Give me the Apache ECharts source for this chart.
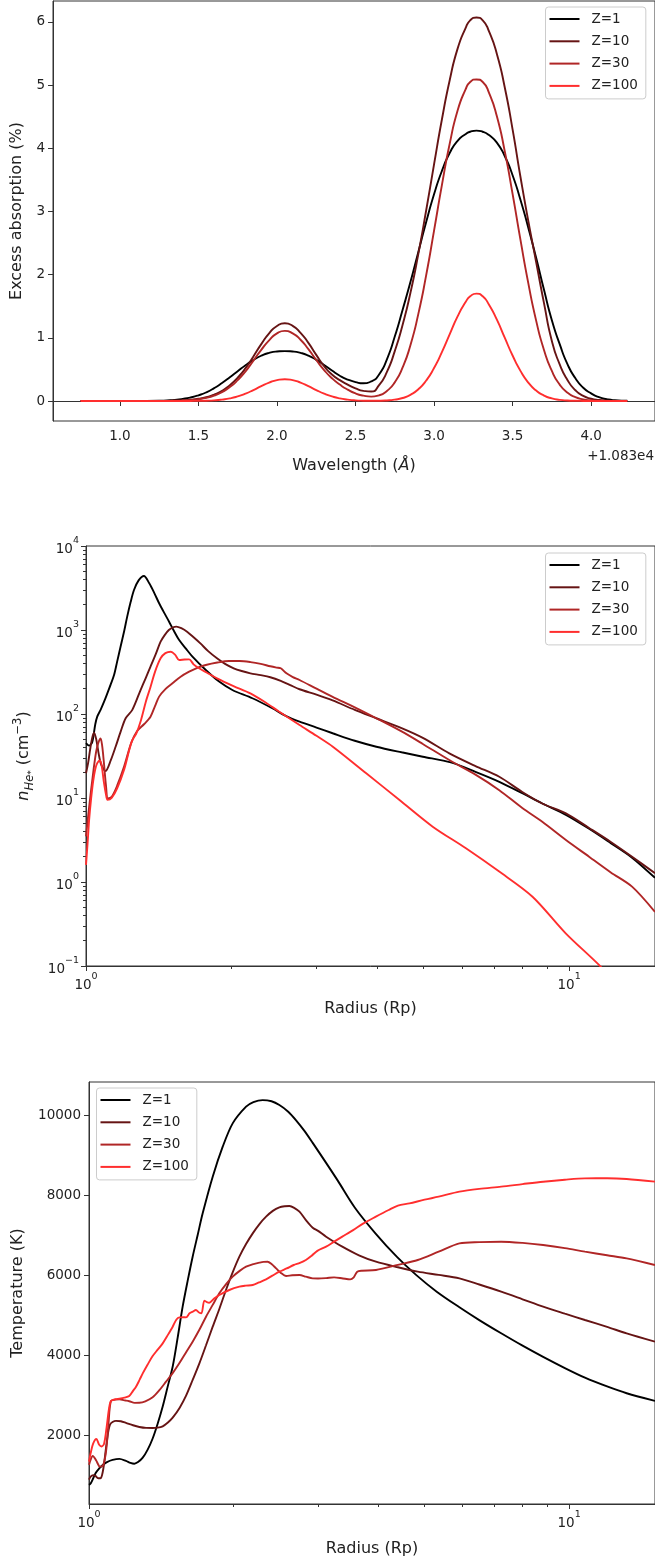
<!DOCTYPE html>
<html>
<head>
<meta charset="utf-8">
<script src="https://cdn.jsdelivr.net/npm/echarts@6/dist/echarts.min.js"></script>
<style>
html,body{margin:0;padding:0;background:#ffffff;}
#chart{width:655px;height:1559px;}
</style>
</head>
<body>
<div id="chart"></div>
<script>
// ---------------- data ----------------
const seriesNames = ['Z=1', 'Z=10', 'Z=30', 'Z=100'];

// Panel 1: excess absorption (%) vs wavelength offset (Å, + 1.083e4)
const wavelength = [0.75,1.00,1.25,1.30,1.35,1.40,1.45,1.50,1.55,1.60,1.65,1.70,1.75,1.80,1.85,1.90,1.95,2.00,2.05,2.10,2.15,2.20,2.25,2.30,2.35,2.40,2.45,2.50,2.55,2.60,2.65,2.70,2.75,2.80,2.85,2.90,2.95,3.00,3.05,3.10,3.15,3.20,3.23,3.27,3.31,3.35,3.40,3.45,3.50,3.55,3.60,3.65,3.70,3.75,3.80,3.85,3.90,3.95,4.00,4.05,4.10,4.15,4.23];
const absZ1 = [0,0,0.004,0.01,0.018,0.033,0.056,0.09,0.137,0.203,0.284,0.376,0.472,0.567,0.65,0.717,0.762,0.784,0.79,0.784,0.762,0.718,0.652,0.571,0.482,0.40,0.34,0.30,0.28,0.31,0.42,0.66,1.02,1.445,1.886,2.36,2.833,3.272,3.642,3.928,4.119,4.224,4.262,4.28,4.262,4.209,4.09,3.877,3.574,3.186,2.743,2.266,1.76,1.28,0.90,0.58,0.36,0.21,0.12,0.06,0.028,0.012,0.004];
const absZ10 = [0,0,0.001,0.002,0.005,0.01,0.02,0.035,0.06,0.10,0.16,0.25,0.37,0.52,0.706,0.90,1.071,1.188,1.23,1.19,1.08,0.92,0.73,0.55,0.42,0.33,0.26,0.20,0.16,0.15,0.25,0.46,0.79,1.207,1.716,2.329,3.019,3.745,4.456,5.082,5.578,5.899,6.026,6.07,6.026,5.85,5.493,4.967,4.30,3.55,2.85,2.2,1.55,0.95,0.58,0.33,0.17,0.08,0.035,0.015,0.006,0.002,0];
const absZ30 = [0,0,0,0.001,0.003,0.008,0.016,0.03,0.05,0.085,0.14,0.22,0.33,0.47,0.64,0.81,0.96,1.07,1.11,1.07,0.97,0.82,0.65,0.49,0.36,0.26,0.18,0.12,0.085,0.07,0.09,0.16,0.295,0.531,0.888,1.379,1.993,2.697,3.417,4.076,4.598,4.928,5.05,5.09,5.05,4.877,4.507,3.955,3.278,2.554,1.866,1.272,0.807,0.476,0.26,0.131,0.061,0.026,0.011,0.004,0.002,0.001,0];
const absZ100 = [0,0,0,0,0,0,0.001,0.002,0.0045,0.01,0.022,0.041,0.073,0.117,0.173,0.234,0.29,0.331,0.345,0.331,0.29,0.234,0.173,0.117,0.073,0.041,0.022,0.01,0.005,0.003,0.004,0.009,0.022,0.048,0.098,0.186,0.324,0.522,0.774,1.06,1.34,1.562,1.657,1.70,1.657,1.524,1.287,1.002,0.72,0.477,0.292,0.165,0.086,0.041,0.018,0.0075,0.003,0.001,0,0,0,0,0];
const wavelengthTicks = [1.0,1.5,2.0,2.5,3.0,3.5,4.0];
const absorptionTicks = [0,1,2,3,4,5,6];
const wavelengthOffsetText = '+1.083e4';

// Panel 2: He* density [radius (Rp), n (cm^-3)]
const nHeZ1 = [[1.0,45],[1.015,42],[1.03,46],[1.045,75],[1.055,93],[1.072,112],[1.09,140],[1.107,176],[1.125,225],[1.143,291],[1.16,420],[1.179,632],[1.2,980],[1.217,1442],[1.237,2150],[1.257,2993],[1.285,3900],[1.318,4393],[1.352,3597],[1.385,2750],[1.417,2080],[1.45,1620],[1.486,1256],[1.52,980],[1.559,760],[1.61,600],[1.661,482],[1.77,334],[1.886,243],[2.009,193],[2.21,154],[2.43,117],[2.59,95],[2.767,81],[3.0,69],[3.24,59],[3.6,48],[3.99,40.8],[4.5,35],[4.98,31],[5.69,26.5],[6.4,20.5],[7.17,15.6],[8.0,11.4],[8.8,8.6],[9.85,6.3],[11.0,4.3],[12.2,2.9],[13.5,1.95],[15.06,1.12]];
const nHeZ10 = [[1.0,19.7],[1.01,26],[1.02,38],[1.03,52],[1.039,60],[1.05,50],[1.062,34],[1.075,25],[1.098,21],[1.125,28],[1.152,41],[1.18,62],[1.208,89],[1.247,112],[1.297,193],[1.33,270],[1.36,366],[1.395,520],[1.427,726],[1.455,870],[1.484,1000],[1.51,1070],[1.539,1097],[1.575,1050],[1.619,955],[1.67,820],[1.725,693],[1.79,560],[1.867,460],[1.94,395],[2.022,350],[2.1,325],[2.189,305],[2.3,290],[2.407,274],[2.53,248],[2.647,221],[2.767,197],[3.0,170],[3.24,145],[3.6,112],[3.99,89],[4.5,68],[4.98,52],[5.65,34],[6.4,24],[7.17,17.9],[8.0,11.8],[8.8,8.6],[9.85,6.56],[11.0,4.4],[12.2,3.0],[13.5,2.0],[15.06,1.27]];
const nHeZ30 = [[1.0,3.5],[1.01,6],[1.02,10],[1.03,16],[1.04,25],[1.05,36],[1.06,45],[1.072,51],[1.08,42],[1.088,28],[1.1,14],[1.11,9.9],[1.13,10.3],[1.16,14],[1.2,24],[1.24,45],[1.274,62],[1.32,76],[1.36,93],[1.39,125],[1.417,161],[1.46,198],[1.51,232],[1.57,278],[1.635,319],[1.7,355],[1.77,383],[1.87,410],[1.977,427],[2.08,427],[2.19,415],[2.3,395],[2.407,370],[2.48,357],[2.53,350],[2.6,305],[2.68,275],[2.767,254],[3.0,200],[3.24,160],[3.6,120],[3.99,89],[4.5,62],[4.98,44],[5.65,28.3],[6.4,19],[7.17,12.4],[8.0,7.6],[8.8,5.2],[9.85,3.16],[11.0,2.0],[12.2,1.3],[13.5,0.88],[15.06,0.44]];
const nHeZ100 = [[1.0,1.6],[1.008,3],[1.015,5.5],[1.025,10],[1.035,16],[1.045,22],[1.055,26],[1.069,28],[1.078,24],[1.088,16],[1.1,11],[1.108,9.5],[1.13,10],[1.16,13],[1.2,22],[1.23,38],[1.247,49],[1.27,58],[1.3,85],[1.33,140],[1.36,210],[1.39,320],[1.427,460],[1.46,530],[1.498,552],[1.53,505],[1.559,439],[1.6,445],[1.635,447],[1.67,390],[1.714,350],[1.78,310],[1.867,266],[2.02,215],[2.189,176],[2.35,138],[2.508,107],[2.767,74],[3.0,55],[3.243,40.8],[3.802,19.7],[4.456,9.47],[5.22,4.56],[6.116,2.52],[7.168,1.33],[8.4,0.668],[9.84,0.245],[11.53,0.103],[12.3,0.068]];
const radiusMajorTicks = [1, 10];
const radiusMinorTicks = [2,3,4,5,6,7,8,9];
const densityMajorTicks = [0.1, 1, 10, 100, 1000, 10000];
const densityMinorTicks = [0.2,0.3,0.4,0.5,0.6,0.7,0.8,0.9,2,3,4,5,6,7,8,9,20,30,40,50,60,70,80,90,200,300,400,500,600,700,800,900,2000,3000,4000,5000,6000,7000,8000,9000];

// Panel 3: temperature (K) [radius (Rp), T]
const tempZ1 = [[1.0,770],[1.008,807],[1.02,930],[1.034,1080],[1.05,1180],[1.068,1269],[1.09,1340],[1.12,1395],[1.157,1420],[1.194,1370],[1.22,1320],[1.243,1300],[1.265,1340],[1.294,1450],[1.325,1650],[1.357,1930],[1.39,2300],[1.424,2730],[1.458,3220],[1.494,3730],[1.53,4450],[1.567,5225],[1.605,5870],[1.644,6475],[1.685,7030],[1.725,7558],[1.81,8475],[1.899,9225],[1.992,9808],[2.124,10225],[2.2,10340],[2.30,10390],[2.4,10360],[2.492,10267],[2.6,10100],[2.70,9885],[2.81,9620],[2.924,9320],[3.118,8820],[3.3,8370],[3.58,7700],[3.95,7060],[4.38,6470],[4.8,6020],[5.3,5600],[5.91,5210],[6.5,4890],[7.22,4560],[8.0,4250],[8.83,3970],[9.8,3690],[10.79,3450],[12.0,3230],[13.18,3060],[15.1,2870]];
const tempZ10 = [[1.0,900],[1.008,975],[1.02,1010],[1.03,1000],[1.045,935],[1.058,940],[1.072,1200],[1.088,1800],[1.106,2277],[1.138,2370],[1.165,2360],[1.194,2320],[1.235,2260],[1.273,2218],[1.315,2195],[1.357,2193],[1.39,2200],[1.424,2235],[1.46,2330],[1.494,2450],[1.545,2700],[1.593,3000],[1.645,3400],[1.698,3808],[1.753,4260],[1.81,4725],[1.87,5180],[1.929,5642],[1.99,6070],[2.057,6475],[2.124,6790],[2.193,7058],[2.265,7290],[2.338,7475],[2.415,7620],[2.492,7708],[2.555,7735],[2.615,7742],[2.68,7690],[2.744,7600],[2.83,7390],[2.924,7200],[3.0,7120],[3.118,6975],[3.37,6725],[3.65,6510],[3.96,6350],[4.4,6210],[4.84,6100],[5.35,6020],[5.91,5933],[6.5,5780],[7.22,5600],[8.0,5410],[8.83,5225],[9.8,5050],[10.79,4892],[12.0,4720],[13.18,4558],[15.1,4350]];
const tempZ30 = [[1.0,1270],[1.008,1400],[1.018,1496],[1.035,1380],[1.054,1227],[1.07,1260],[1.085,1600],[1.098,2300],[1.111,2865],[1.135,2900],[1.157,2907],[1.19,2880],[1.213,2860],[1.245,2820],[1.273,2823],[1.31,2860],[1.357,2960],[1.4,3130],[1.447,3350],[1.495,3570],[1.542,3808],[1.59,4070],[1.644,4350],[1.7,4660],[1.753,4975],[1.81,5270],[1.868,5558],[1.93,5790],[1.992,5975],[2.06,6120],[2.124,6225],[2.2,6290],[2.264,6325],[2.31,6345],[2.356,6350],[2.4,6290],[2.453,6183],[2.51,6070],[2.573,5992],[2.65,6010],[2.744,6017],[2.83,5975],[2.924,5933],[3.0,5930],[3.118,5940],[3.24,5958],[3.38,5930],[3.5,5908],[3.56,5960],[3.62,6100],[3.7,6125],[3.96,6142],[4.4,6270],[4.84,6392],[5.35,6600],[5.91,6808],[6.5,6840],[7.22,6850],[8.0,6820],[8.83,6767],[9.8,6690],[10.79,6600],[12.0,6510],[13.18,6433],[15.1,6267]];
const tempZ100 = [[1.0,1350],[1.008,1563],[1.02,1800],[1.036,1916],[1.05,1773],[1.062,1731],[1.075,1800],[1.088,2200],[1.1,2650],[1.111,2865],[1.135,2910],[1.157,2924],[1.185,2950],[1.213,2991],[1.235,3120],[1.253,3225],[1.275,3400],[1.294,3558],[1.325,3780],[1.357,3990],[1.39,4150],[1.424,4308],[1.46,4520],[1.494,4725],[1.52,4900],[1.542,4958],[1.57,4960],[1.593,4958],[1.62,5060],[1.645,5100],[1.67,5142],[1.695,5080],[1.715,5060],[1.739,5375],[1.76,5340],[1.78,5325],[1.82,5420],[1.868,5517],[1.96,5642],[2.057,5725],[2.12,5750],[2.193,5767],[2.26,5830],[2.338,5908],[2.41,6000],[2.492,6100],[2.58,6180],[2.67,6267],[2.75,6320],[2.83,6392],[2.91,6500],[2.99,6620],[3.118,6725],[3.24,6850],[3.37,6975],[3.55,7140],[3.73,7308],[3.95,7470],[4.21,7642],[4.4,7750],[4.65,7808],[5.0,7900],[5.35,7975],[5.91,8100],[6.5,8170],[7.22,8225],[8.0,8290],[8.83,8350],[9.8,8400],[10.79,8433],[12.0,8435],[13.18,8417],[15.1,8350]];
const temperatureTicks = [2000, 4000, 6000, 8000, 10000];

// ---------------- styling ----------------
const FONT = 'DejaVu Sans';
const COLORS = ['#000000', '#661414', '#b02626', '#ff2e2e'];
const AXIS_COLOR = '#333333';
const TEXT_COLOR = '#222222';
const LINE_W = 1.9;

const supRich = {
  b: {fontFamily: FONT, fontSize: 13.5, color: TEXT_COLOR, lineHeight: 20, verticalAlign: 'bottom'},
  s: {fontFamily: FONT, fontSize: 9.5, color: TEXT_COLOR, lineHeight: 10, verticalAlign: 'top'}
};
function logLabel(v) {
  const e = Math.round(Math.log10(v));
  const es = e < 0 ? '\u2212' + Math.abs(e) : String(e);
  return '{b|10}{s|' + es + '}';
}

function linearAxisCommon(ticks, fmt) {
  return {
    axisLine: {show: true, lineStyle: {color: AXIS_COLOR, width: 1}},
    axisTick: {show: true, length: 5, customValues: ticks, lineStyle: {color: AXIS_COLOR, width: 1}},
    axisLabel: {show: true, customValues: ticks, formatter: fmt, margin: 8,
      fontFamily: FONT, fontSize: 13.5, color: TEXT_COLOR},
    splitLine: {show: false}
  };
}

function legendFor(left, top) {
  return {
    data: seriesNames,
    orient: 'vertical',
    left: left, top: top,
    icon: 'rect',
    itemWidth: 30, itemHeight: 2,
    itemGap: 8.3,
    padding: [5, 8, 6, 4],
    backgroundColor: 'rgba(255,255,255,0.85)',
    borderColor: '#cccccc', borderWidth: 1, borderRadius: 3,
    textStyle: {fontFamily: FONT, fontSize: 13.5, color: TEXT_COLOR, lineHeight: 14, padding: [0, 0, 0, 7]},
    selectedMode: false
  };
}

const xAxes = [];
const yAxes = [];

// Panel 1 axes
xAxes.push(Object.assign({
  gridIndex: 0, type: 'value', min: 0.5741, max: 4.4067, position: 'bottom',
  name: 'Wavelength ({i|\u00C5})', nameLocation: 'middle', nameGap: 37,
  nameTextStyle: {fontFamily: FONT, fontSize: 16, color: TEXT_COLOR,
    rich: {i: {fontFamily: FONT, fontSize: 16, fontStyle: 'italic', color: TEXT_COLOR}}}
}, linearAxisCommon(wavelengthTicks, v => v.toFixed(1))));
yAxes.push(Object.assign({
  gridIndex: 0, type: 'value', min: -0.3166, max: 6.332,
  name: 'Excess absorption (%)', nameLocation: 'middle', nameGap: 28,
  nameTextStyle: {fontFamily: FONT, fontSize: 16, color: TEXT_COLOR}
}, linearAxisCommon(absorptionTicks, v => String(v))));

// Panel 2 axes (log-log)
xAxes.push({
  gridIndex: 1, type: 'log', logBase: 10, min: 1, max: 15.06, position: 'bottom',
  name: 'Radius (Rp)', nameLocation: 'middle', nameGap: 35,
  nameTextStyle: {fontFamily: FONT, fontSize: 16, color: TEXT_COLOR},
  axisLine: {show: true, lineStyle: {color: AXIS_COLOR, width: 1}},
  axisTick: {show: true, length: 5, customValues: radiusMajorTicks, lineStyle: {color: AXIS_COLOR}},
  axisLabel: {show: true, customValues: radiusMajorTicks, formatter: logLabel, margin: 6, rich: supRich},
  splitLine: {show: false}
});
xAxes.push({
  gridIndex: 1, type: 'log', logBase: 10, min: 1, max: 15.06, position: 'bottom',
  axisLine: {show: false},
  axisTick: {show: true, length: 3, customValues: radiusMinorTicks, lineStyle: {color: AXIS_COLOR}},
  axisLabel: {show: false}, splitLine: {show: false}
});
yAxes.push({
  gridIndex: 1, type: 'log', logBase: 10, min: 0.1, max: 10000,
  name: '{n|n}{sb|He}{ss|*} (cm{sp|\u22123})', nameLocation: 'middle', nameGap: 50,
  nameTextStyle: {fontFamily: FONT, fontSize: 16, color: TEXT_COLOR, rich: {
    n: {fontFamily: FONT, fontSize: 16, fontStyle: 'italic', color: TEXT_COLOR, lineHeight: 24, verticalAlign: 'middle'},
    sb: {fontFamily: FONT, fontSize: 11.5, fontStyle: 'italic', color: TEXT_COLOR, lineHeight: 12, verticalAlign: 'bottom'},
    ss: {fontFamily: FONT, fontSize: 9, color: TEXT_COLOR, lineHeight: 17, verticalAlign: 'bottom'},
    sp: {fontFamily: FONT, fontSize: 11.5, color: TEXT_COLOR, lineHeight: 12, verticalAlign: 'top'}
  }},
  axisLine: {show: true, lineStyle: {color: AXIS_COLOR, width: 1}},
  axisTick: {show: true, length: 5, customValues: densityMajorTicks, lineStyle: {color: AXIS_COLOR}},
  axisLabel: {show: true, customValues: densityMajorTicks, formatter: logLabel, margin: 7, rich: supRich},
  splitLine: {show: false}
});
yAxes.push({
  gridIndex: 1, type: 'log', logBase: 10, min: 0.1, max: 10000, position: 'left',
  axisLine: {show: false},
  axisTick: {show: true, length: 3, customValues: densityMinorTicks, lineStyle: {color: AXIS_COLOR}},
  axisLabel: {show: false}, splitLine: {show: false}
});

// Panel 3 axes
xAxes.push({
  gridIndex: 2, type: 'log', logBase: 10, min: 1, max: 15.1, position: 'bottom',
  name: 'Radius (Rp)', nameLocation: 'middle', nameGap: 37,
  nameTextStyle: {fontFamily: FONT, fontSize: 16, color: TEXT_COLOR},
  axisLine: {show: true, lineStyle: {color: AXIS_COLOR, width: 1}},
  axisTick: {show: true, length: 5, customValues: radiusMajorTicks, lineStyle: {color: AXIS_COLOR}},
  axisLabel: {show: true, customValues: radiusMajorTicks, formatter: logLabel, margin: 6, rich: supRich},
  splitLine: {show: false}
});
xAxes.push({
  gridIndex: 2, type: 'log', logBase: 10, min: 1, max: 15.1, position: 'bottom',
  axisLine: {show: false},
  axisTick: {show: true, length: 3, customValues: radiusMinorTicks, lineStyle: {color: AXIS_COLOR}},
  axisLabel: {show: false}, splitLine: {show: false}
});
yAxes.push(Object.assign({
  gridIndex: 2, type: 'value', min: 292, max: 10842,
  name: 'Temperature (K)', nameLocation: 'middle', nameGap: 63,
  nameTextStyle: {fontFamily: FONT, fontSize: 16, color: TEXT_COLOR}
}, linearAxisCommon(temperatureTicks, v => String(v))));

const series = [];
const absSets = [absZ1, absZ10, absZ30, absZ100];
const nSets = [nHeZ1, nHeZ10, nHeZ30, nHeZ100];
const tSets = [tempZ1, tempZ10, tempZ30, tempZ100];
function lineSeries(i, xi, yi, data, smooth) {
  return {
    type: 'line', name: seriesNames[i], xAxisIndex: xi, yAxisIndex: yi, data: data,
    showSymbol: false, symbol: 'none', smooth: smooth, clip: true,
    lineStyle: {color: COLORS[i], width: LINE_W}, itemStyle: {color: COLORS[i]},
    emphasis: {disabled: true}
  };
}
for (let i = 0; i < 4; i++) {
  series.push(lineSeries(i, 0, 0, wavelength.map((w, k) => [w, absSets[i][k]]), 0.6));
}
for (let i = 0; i < 4; i++) series.push(lineSeries(i, 1, 1, nSets[i], 0.3));
for (let i = 0; i < 4; i++) series.push(lineSeries(i, 3, 3, tSets[i], 0.3));

const option = {
  animation: false,
  backgroundColor: '#ffffff',
  grid: [
    {left: 53, top: 1, width: 603, height: 420, show: true, borderColor: AXIS_COLOR, borderWidth: 1, containLabel: false},
    {left: 86, top: 546, width: 570, height: 420, show: true, borderColor: AXIS_COLOR, borderWidth: 1, containLabel: false},
    {left: 89, top: 1082, width: 567, height: 422, show: true, borderColor: AXIS_COLOR, borderWidth: 1, containLabel: false}
  ],
  xAxis: xAxes,
  yAxis: yAxes,
  legend: [legendFor(545.5, 7), legendFor(545.5, 553), legendFor(96.5, 1088)],
  graphic: [{
    type: 'text', right: 1, top: 449,
    style: {text: wavelengthOffsetText, font: '13.5px "DejaVu Sans"', fill: TEXT_COLOR}
  }],
  series: series
};

const chart = echarts.init(document.getElementById('chart'), null, {renderer: 'canvas'});
chart.setOption(option);
</script>
</body>
</html>
